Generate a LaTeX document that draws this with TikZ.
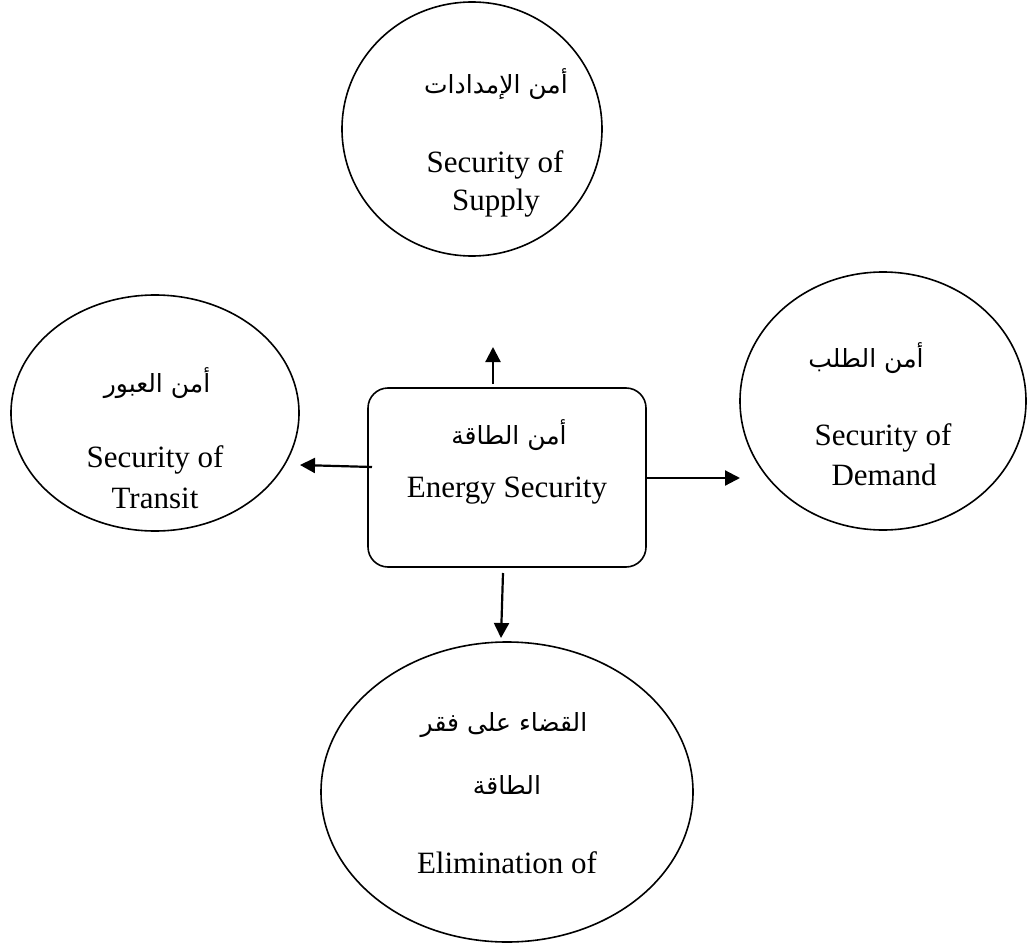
\documentclass[tikz,border=0pt]{standalone}
\usepackage{fontspec}
\setmainfont{Liberation Serif}
\newfontfamily\arabicfont[Script=Arabic]{DejaVu Sans}
\TeXXeTstate=1
\usetikzlibrary{shapes.geometric,arrows.meta}
\begin{document}
\begin{tikzpicture}[x=1pt,y=-1pt,
  bubble/.style={draw,ellipse,line width=1.6pt,inner sep=0pt},
  roundbox/.style={draw,rounded corners=20pt,line width=1.6pt,inner sep=0pt},
  ar/.style={font=\fontsize{25}{30}\arabicfont,inner sep=0pt,anchor=center},
  en/.style={font=\fontsize{31}{36}\selectfont,inner sep=0pt,anchor=base},
  link/.style={line width=2.2pt,-{Triangle[length=15pt,width=15pt]}}]
\useasboundingbox (0,0) rectangle (1028,944);
% shapes
\node[bubble,minimum width=260pt,minimum height=254pt] (supply) at (472,129) {};
\node[bubble,minimum width=288pt,minimum height=236pt] (transit) at (155,413) {};
\node[bubble,minimum width=286pt,minimum height=258pt] (demand) at (883,401) {};
\node[bubble,minimum width=372pt,minimum height=300pt] (elim) at (507,792) {};
\node[roundbox,minimum width=278pt,minimum height=179pt] (energy) at (507,477.5) {};
% texts
\node[ar] (t1a) at (496,84) {\beginR أمن الإمدادات\endR};
\node[en] (t1b) at (495,173) {Security of};
\node[en] (t1c) at (496,211) {Supply};
\node[ar] (t2a) at (157,383) {\beginR أمن العبور\endR};
\node[en] (t2b) at (155,467) {Security of};
\node[en] (t2c) at (155,508) {Transit};
\node[ar] (t3a) at (866,358) {\beginR أمن الطلب\endR};
\node[en] (t3b) at (883,445) {Security of};
\node[en] (t3c) at (884,485) {Demand};
\node[ar] (t4a) at (509,435) {\beginR أمن الطاقة\endR};
\node[en] (t4b) at (507,497) {Energy Security};
\node[ar] (t5a) at (504,725) {\beginR القضاء على فقر\endR};
\node[ar] (t5b) at (507,785) {\beginR الطاقة\endR};
\node[en] (t5c) at (507,873) {Elimination of};
% arrow endpoints
\coordinate (upS) at (493,384);
\coordinate (upE) at (493,347);
\coordinate (lfS) at (372,467);
\coordinate (lfE) at (300,465);
\coordinate (rtS) at (647,478);
\coordinate (rtE) at (740,478);
\coordinate (dnS) at (503,573);
\coordinate (dnE) at (501,638);
\draw[link] (upS) -- (upE);
\draw[link] (lfS) -- (lfE);
\draw[link] (rtS) -- (rtE);
\draw[link] (dnS) -- (dnE);
\end{tikzpicture}
\end{document}
